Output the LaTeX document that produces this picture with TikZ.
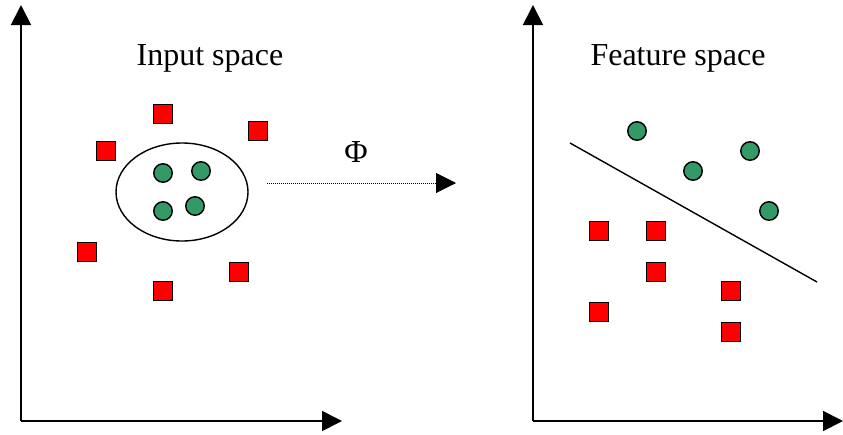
\documentclass[tikz,border=0pt]{standalone}
\usepackage{fontspec}
\setmainfont{Liberation Serif}
\usepackage{tikz}
\usetikzlibrary{arrows.meta, shapes.geometric, positioning}
\definecolor{seagreen}{RGB}{51,153,102}
\tikzset{
  >={Triangle[length=20pt,width=20pt]}, % big filled heads on the axes
  axis/.style={->, line width=1.7pt},
  redsq/.style={draw, fill=red, rectangle, minimum size=19pt, inner sep=0pt, line width=1.4pt},
  greendot/.style={draw, fill=seagreen, circle, minimum size=18.5pt, inner sep=0pt, line width=1.4pt},
  title/.style={font=\fontsize{32}{38}\selectfont, inner sep=0pt},
}

\begin{document}
\begin{tikzpicture}[x=1pt,y=-1pt]%pixel units, y downwards
  \useasboundingbox (0,0) rectangle (843,434);

  % left panel: input space
  \coordinate (o1) at (21,421);
  \coordinate (y1) at (21,5);
  \coordinate (x1) at (342,421);
  \draw[axis] (o1) -- (y1);
  \draw[axis] (o1) -- (x1);
  \node[title] (in) at (210,58) {Input space};

  \node[draw, ellipse, line width=1.4pt, minimum width=132pt, minimum height=98pt, inner sep=0pt] (ring) at (182,192) {};
  \node[greendot] (a1) at (163,173) {};
  \node[greendot] (a2) at (201,171) {};
  \node[greendot] (a3) at (163,211) {};
  \node[greendot] (a4) at (195,206) {};

  \node[redsq] (b1) at (163,114) {};
  \node[redsq] (b2) at (258,131) {};
  \node[redsq] (b3) at (106,151) {};
  \node[redsq] (b4) at (87,252) {};
  \node[redsq] (b5) at (239,272) {};
  \node[redsq] (b6) at (163,291) {};

  % the mapping
  \coordinate (m0) at (267,183);
  \coordinate (m1) at (456,183);
  \draw[->, line width=1pt, dash pattern=on 1pt off 1pt] (m0) -- (m1);
  \node[title] (phi) at (356,152) {Φ};

  % right panel: feature space
  \coordinate (o2) at (533,421);
  \coordinate (y2) at (533,5);
  \coordinate (x2) at (843,421);
  \draw[axis] (o2) -- (y2);
  \draw[axis] (o2) -- (x2);
  \node[title] (out) at (678,58) {Feature space};

  \coordinate (s0) at (570,143);
  \coordinate (s1) at (817,282);
  \draw[line width=1.4pt] (s0) -- (s1);

  \node[greendot] (c1) at (637,131) {};
  \node[greendot] (c2) at (693,171) {};
  \node[greendot] (c3) at (750,151) {};
  \node[greendot] (c4) at (769,211) {};

  \node[redsq] (d1) at (599,231) {};
  \node[redsq] (d2) at (656,231) {};
  \node[redsq] (d3) at (656,272) {};
  \node[redsq] (d4) at (599,312) {};
  \node[redsq] (d5) at (731,291) {};
  \node[redsq] (d6) at (731,332) {};
\end{tikzpicture}
\end{document}
